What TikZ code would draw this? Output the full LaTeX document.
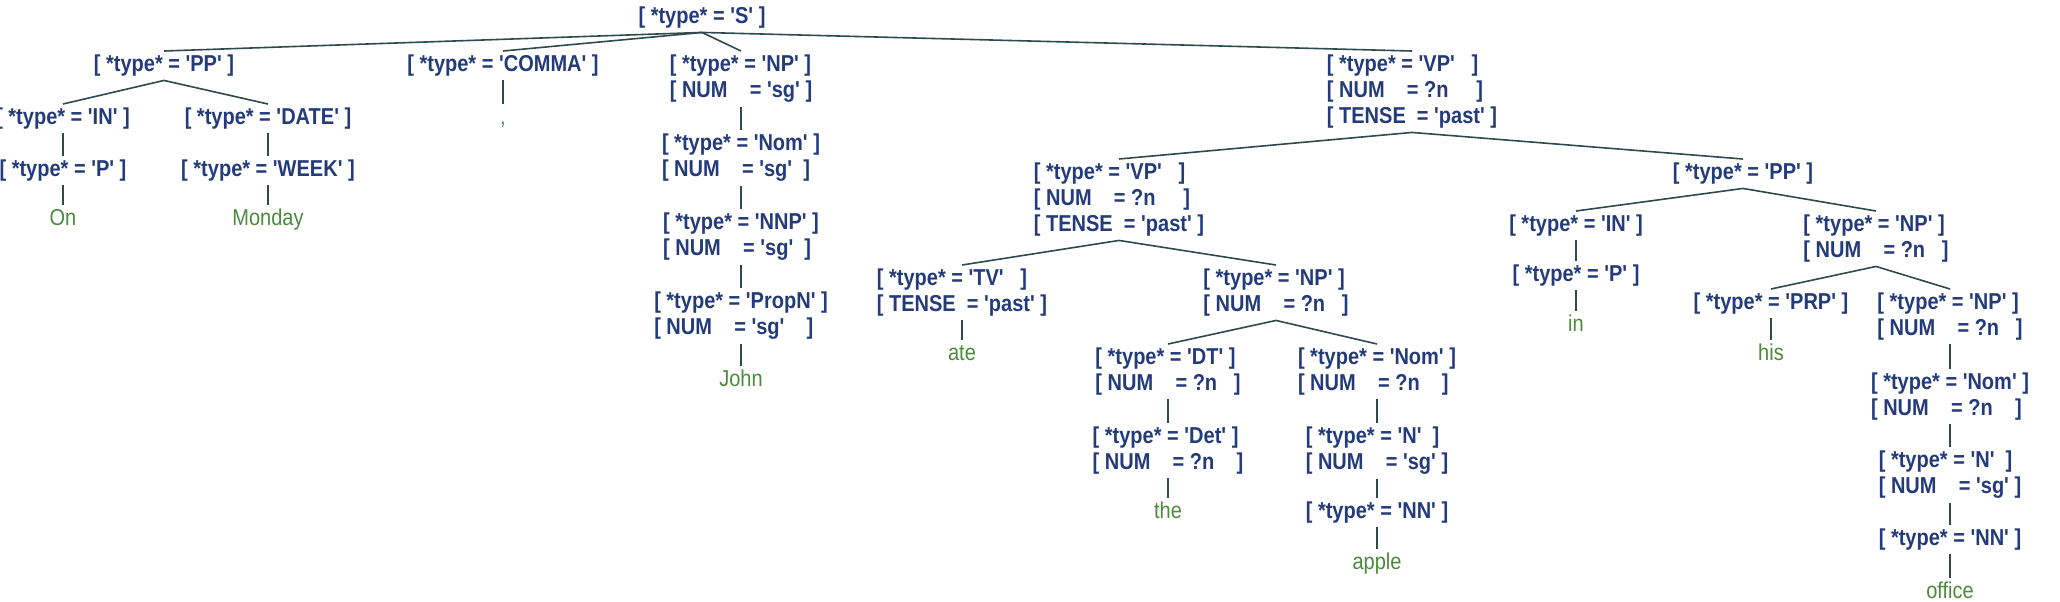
\documentclass[tikz,border=0pt]{standalone}
\usepackage{fontspec}
\usepackage{tikz}
\newfontfamily\featfont{Liberation Sans}[Ligatures=TeXOff,FakeStretch=0.87]
\definecolor{featblue}{HTML}{233B7B}
\definecolor{leafgreen}{HTML}{4B8A3B}
\definecolor{branch}{HTML}{2F4A4A}
\newcommand\fl[1]{{[}~#1~]}
\tikzset{
  fs/.style={font=\featfont\bfseries\fontsize{11.5}{13}\selectfont, text=featblue,
    align=left, inner sep=0pt, outer sep=2pt, anchor=north},
  leaf/.style={font=\featfont\fontsize{11.5}{13}\selectfont, text=leafgreen,
    text height=8pt, text depth=2pt, inner sep=0pt, outer sep=2pt, anchor=north},
  br/.style={draw=branch, line width=0.8pt}
}

\begin{document}
\begin{tikzpicture}[x=0.5pt,y=-0.5pt]
            \useasboundingbox (0,0) rectangle (2060,601);
            \node[fs] (s) at (702,3) {\fl{*type* = 'S'}};
            \node[fs] (pp) at (164,51) {\fl{*type* = 'PP'}};
            \node[fs] (comma) at (503,51) {\fl{*type* = 'COMMA'}};
            \node[fs] (np) at (741,51) {\fl{*type* = 'NP'}\\\fl{NUM~~~~= 'sg'}};
            \node[fs] (vp) at (1412,51) {\fl{*type* = 'VP'~~}\\\fl{NUM~~~~= ?n~~~~}\\\fl{TENSE~~= 'past'}};
            % left PP
            \node[fs] (in) at (63,104) {\fl{*type* = 'IN'}};
            \node[fs] (date) at (268,104) {\fl{*type* = 'DATE'}};
            \node[fs] (p) at (63,156) {\fl{*type* = 'P'}};
            \node[fs] (week) at (268,156) {\fl{*type* = 'WEEK'}};
            \node[leaf] (on) at (63,205) {On};
            \node[leaf] (monday) at (268,205) {Monday};
            \node[leaf] (cm) at (503,104) {,};
            % subject NP
            \node[fs] (nom) at (741,130) {\fl{*type* = 'Nom'}\\\fl{NUM~~~~= 'sg'~}};
            \node[fs] (nnp) at (741,209) {\fl{*type* = 'NNP'}\\\fl{NUM~~~~= 'sg'~}};
            \node[fs] (propn) at (741,288) {\fl{*type* = 'PropN'}\\\fl{NUM~~~~= 'sg'~~~}};
            \node[leaf] (john) at (741,366) {John};
            % VP
            \node[fs] (vpp) at (1119,159) {\fl{*type* = 'VP'~~}\\\fl{NUM~~~~= ?n~~~~}\\\fl{TENSE~~= 'past'}};
            \node[fs] (ppp) at (1743,159) {\fl{*type* = 'PP'}};
            \node[fs] (tv) at (962,265) {\fl{*type* = 'TV'~~}\\\fl{TENSE~~= 'past'}};
            \node[fs] (npp) at (1276,265) {\fl{*type* = 'NP'}\\\fl{NUM~~~~= ?n~~}};
            \node[leaf] (ate) at (962,340) {ate};
            \node[fs] (dt) at (1168,344) {\fl{*type* = 'DT'}\\\fl{NUM~~~~= ?n~~}};
            \node[fs] (nomm) at (1377,344) {\fl{*type* = 'Nom'}\\\fl{NUM~~~~= ?n~~~}};
            \node[fs] (det) at (1168,423) {\fl{*type* = 'Det'}\\\fl{NUM~~~~= ?n~~~}};
            \node[leaf] (the) at (1168,498) {the};
            \node[fs] (n) at (1377,423) {\fl{*type* = 'N'~}\\\fl{NUM~~~~= 'sg'}};
            \node[fs] (nn) at (1377,498) {\fl{*type* = 'NN'}};
            \node[leaf] (apple) at (1377,549) {apple};
            % right PP
            \node[fs] (inn) at (1576,211) {\fl{*type* = 'IN'}};
            \node[fs] (nppp) at (1876,211) {\fl{*type* = 'NP'}\\\fl{NUM~~~~= ?n~~}};
            \node[fs] (pp2) at (1576,261) {\fl{*type* = 'P'}};
            \node[leaf] (inw) at (1576,311) {in};
            \node[fs] (prp) at (1771,289) {\fl{*type* = 'PRP'}};
            \node[fs] (np4) at (1950,289) {\fl{*type* = 'NP'}\\\fl{NUM~~~~= ?n~~}};
            \node[leaf] (his) at (1771,340) {his};
            \node[fs] (nom3) at (1950,369) {\fl{*type* = 'Nom'}\\\fl{NUM~~~~= ?n~~~}};
            \node[fs] (n3) at (1950,447) {\fl{*type* = 'N'~}\\\fl{NUM~~~~= 'sg'}};
            \node[fs] (nn3) at (1950,525) {\fl{*type* = 'NN'}};
            \node[leaf] (office) at (1950,578) {office};
            \draw[br] (s.south) to (pp.north);
            \draw[br] (s.south) to (comma.north);
            \draw[br] (s.south) to (np.north);
            \draw[br] (s.south) to (vp.north);
            \draw[br] (pp.south) to (in.north);
            \draw[br] (pp.south) to (date.north);
            \draw[br] (in.south) to (p.north);
            \draw[br] (date.south) to (week.north);
            \draw[br] (p.south) to (on.north);
            \draw[br] (week.south) to (monday.north);
            \draw[br] (comma.south) to (cm.north);
            \draw[br] (np.south) to (nom.north);
            \draw[br] (nom.south) to (nnp.north);
            \draw[br] (nnp.south) to (propn.north);
            \draw[br] (propn.south) to (john.north);
            \draw[br] (vp.south) to (vpp.north);
            \draw[br] (vp.south) to (ppp.north);
            \draw[br] (vpp.south) to (tv.north);
            \draw[br] (vpp.south) to (npp.north);
            \draw[br] (tv.south) to (ate.north);
            \draw[br] (npp.south) to (dt.north);
            \draw[br] (npp.south) to (nomm.north);
            \draw[br] (dt.south) to (det.north);
            \draw[br] (det.south) to (the.north);
            \draw[br] (nomm.south) to (n.north);
            \draw[br] (n.south) to (nn.north);
            \draw[br] (nn.south) to (apple.north);
            \draw[br] (ppp.south) to (inn.north);
            \draw[br] (ppp.south) to (nppp.north);
            \draw[br] (inn.south) to (pp2.north);
            \draw[br] (pp2.south) to (inw.north);
            \draw[br] (nppp.south) to (prp.north);
            \draw[br] (nppp.south) to (np4.north);
            \draw[br] (prp.south) to (his.north);
            \draw[br] (np4.south) to (nom3.north);
            \draw[br] (nom3.south) to (n3.north);
            \draw[br] (n3.south) to (nn3.north);
            \draw[br] (nn3.south) to (office.north);
\end{tikzpicture}
\end{document}
